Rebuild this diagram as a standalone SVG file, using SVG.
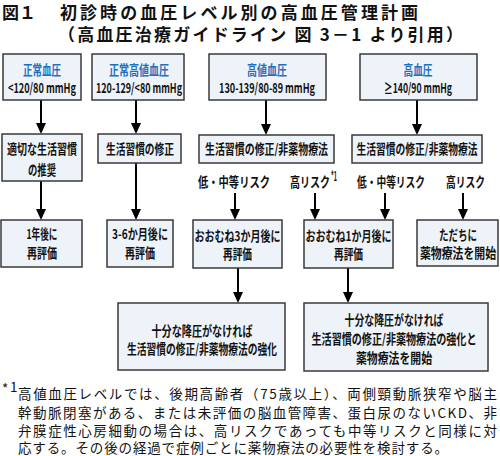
<svg xmlns="http://www.w3.org/2000/svg" width="500" height="456" viewBox="0 0 500 456">
<style>
  .bg { fill: #ffffff; }
  .box { fill: #eef3f9; stroke: #3a3a3a; stroke-width: 1.5; }
  .t { font-family: "Noto Sans CJK JP", "Liberation Sans", sans-serif; font-size: 13.5px; font-weight: 700; fill: #111; text-anchor: middle; }
  .blue { fill: #1f6fbf; }
  .lbl { font-family: "Noto Sans CJK JP", "Liberation Sans", sans-serif; font-size: 13.5px; font-weight: 700; fill: #111; }
  .title { font-family: "Noto Sans CJK JP", "Liberation Sans", sans-serif; font-size: 17px; font-weight: bold; fill: #111; }
  .fn { font-family: "Noto Sans CJK JP", "Liberation Sans", sans-serif; font-size: 13.5px; font-weight: 400; fill: #111; }
  .conn line { stroke: #000; stroke-width: 2; marker-end: url(#arr); }
</style>
<defs>
  <marker id="arr" viewBox="0 0 11 10" markerWidth="11" markerHeight="10" refX="6" refY="5" orient="auto" markerUnits="userSpaceOnUse">
    <path d="M0,0 L11,5 L0,10 z" fill="#000"/>
  </marker>
</defs>
<rect class="bg" x="0" y="0" width="500" height="456"/>

<g id="title">
  <text class="title" x="2" y="19" textLength="34" lengthAdjust="spacing">図１</text>
  <text class="title" x="60" y="19" textLength="358" lengthAdjust="spacing">初診時の血圧レベル別の高血圧管理計画</text>
  <text class="title" x="58" y="41" textLength="405" lengthAdjust="spacing">（高血圧治療ガイドライン 図 3－1 より引用）</text>
</g>

<g id="connectors" class="conn">
  <line x1="41" y1="100" x2="41" y2="129"/>
  <line x1="136" y1="100" x2="136" y2="129"/>
  <line x1="266" y1="100" x2="266" y2="130"/>
  <line x1="417" y1="100" x2="417" y2="130"/>
  <line x1="41" y1="181" x2="41" y2="215"/>
  <line x1="136" y1="163" x2="136" y2="215"/>
  <line x1="235" y1="193" x2="235" y2="215"/>
  <line x1="315" y1="193" x2="315" y2="215"/>
  <line x1="385" y1="193" x2="385" y2="215"/>
  <line x1="463" y1="193" x2="463" y2="215"/>
  <line x1="238" y1="268" x2="238" y2="298"/>
  <line x1="348" y1="268" x2="348" y2="298"/>
</g>

<g id="normal">
  <rect class="box" x="3" y="54" width="78" height="46"/>
  <text class="t blue" x="42" y="75" textLength="38" lengthAdjust="spacingAndGlyphs">正常血圧</text>
  <text class="t" x="42" y="93" font-weight="400" textLength="68" lengthAdjust="spacingAndGlyphs">&lt;120/80 mmHg</text>
</g>
<g id="high-normal">
  <rect class="box" x="92" y="54" width="92" height="46"/>
  <text class="t blue" x="139" y="75" textLength="60" lengthAdjust="spacingAndGlyphs">正常高値血圧</text>
  <text class="t" x="139" y="93" font-weight="400" textLength="86" lengthAdjust="spacingAndGlyphs">120-129/&lt;80 mmHg</text>
</g>
<g id="elevated">
  <rect class="box" x="209" y="54" width="117" height="46"/>
  <text class="t blue" x="267" y="75" textLength="40" lengthAdjust="spacingAndGlyphs">高値血圧</text>
  <text class="t" x="267" y="93" font-weight="400" textLength="96" lengthAdjust="spacingAndGlyphs">130-139/80-89 mmHg</text>
</g>
<g id="hypertension">
  <rect class="box" x="360" y="54" width="117" height="46"/>
  <text class="t blue" x="418" y="75" textLength="29" lengthAdjust="spacingAndGlyphs">高血圧</text>
  <text class="t" x="418" y="93" font-weight="400" textLength="68" lengthAdjust="spacingAndGlyphs">≥140/90 mmHg</text>
</g>

<g id="lifestyle-recommend">
  <rect class="box" x="2" y="134" width="80" height="47"/>
  <text class="t" x="42" y="154" textLength="70" lengthAdjust="spacingAndGlyphs">適切な生活習慣</text>
  <text class="t" x="42" y="175" textLength="28" lengthAdjust="spacingAndGlyphs">の推奨</text>
</g>
<g id="lifestyle-modify">
  <rect class="box" x="98" y="134" width="83" height="29"/>
  <text class="t" x="140" y="154" textLength="68" lengthAdjust="spacingAndGlyphs">生活習慣の修正</text>
</g>
<g id="lifestyle-nondrug-1">
  <rect class="box" x="199" y="135" width="135" height="28"/>
  <text class="t" x="266.5" y="154" textLength="123" lengthAdjust="spacingAndGlyphs">生活習慣の修正/非薬物療法</text>
</g>
<g id="lifestyle-nondrug-2">
  <rect class="box" x="352" y="135" width="130" height="28"/>
  <text class="t" x="417" y="154" textLength="121" lengthAdjust="spacingAndGlyphs">生活習慣の修正/非薬物療法</text>
</g>

<g id="risk-labels">
  <text class="lbl" x="198" y="187" textLength="72" lengthAdjust="spacingAndGlyphs">低・中等リスク</text>
  <text class="lbl" x="290" y="187" textLength="40" lengthAdjust="spacingAndGlyphs">高リスク</text>
  <text class="lbl" x="331" y="181" font-size="8" textLength="6" lengthAdjust="spacingAndGlyphs">*1</text>
  <text class="lbl" x="357" y="187" textLength="68" lengthAdjust="spacingAndGlyphs">低・中等リスク</text>
  <text class="lbl" x="446" y="187" textLength="39" lengthAdjust="spacingAndGlyphs">高リスク</text>
</g>

<g id="reeval-1y">
  <rect class="box" x="1" y="220" width="81" height="47"/>
  <text class="t" x="42" y="239" textLength="31" lengthAdjust="spacingAndGlyphs">1年後に</text>
  <text class="t" x="42" y="258" textLength="30" lengthAdjust="spacingAndGlyphs">再評価</text>
</g>
<g id="reeval-3-6m">
  <rect class="box" x="107" y="220" width="66" height="47"/>
  <text class="t" x="140" y="239" textLength="56" lengthAdjust="spacingAndGlyphs">3-6か月後に</text>
  <text class="t" x="140" y="258" textLength="30" lengthAdjust="spacingAndGlyphs">再評価</text>
</g>
<g id="reeval-3m">
  <rect class="box" x="193" y="220" width="89" height="48"/>
  <text class="t" x="237.5" y="241" textLength="86" lengthAdjust="spacingAndGlyphs">おおむね3か月後に</text>
  <text class="t" x="237.5" y="259" textLength="29" lengthAdjust="spacingAndGlyphs">再評価</text>
</g>
<g id="reeval-1m">
  <rect class="box" x="304" y="220" width="89" height="48"/>
  <text class="t" x="348.5" y="241" textLength="86" lengthAdjust="spacingAndGlyphs">おおむね1か月後に</text>
  <text class="t" x="348.5" y="259" textLength="29" lengthAdjust="spacingAndGlyphs">再評価</text>
</g>
<g id="drug-start">
  <rect class="box" x="417" y="220" width="81" height="46"/>
  <text class="t" x="458" y="240" textLength="38" lengthAdjust="spacingAndGlyphs">ただちに</text>
  <text class="t" x="458" y="258" textLength="76" lengthAdjust="spacingAndGlyphs">薬物療法を開始</text>
</g>

<g id="intensify">
  <rect class="box" x="118" y="303" width="167" height="67"/>
  <text class="t" x="202" y="336" textLength="101" lengthAdjust="spacingAndGlyphs">十分な降圧がなければ</text>
  <text class="t" x="202" y="354" textLength="150" lengthAdjust="spacingAndGlyphs">生活習慣の修正/非薬物療法の強化</text>
</g>
<g id="intensify-drug">
  <rect class="box" x="304" y="303" width="184" height="68"/>
  <text class="t" x="394" y="325" textLength="99" lengthAdjust="spacingAndGlyphs">十分な降圧がなければ</text>
  <text class="t" x="394" y="344" textLength="165" lengthAdjust="spacingAndGlyphs">生活習慣の修正/非薬物療法の強化と</text>
  <text class="t" x="394" y="363" textLength="76" lengthAdjust="spacingAndGlyphs">薬物療法を開始</text>
</g>

<g id="footnote">
  <text class="fn" x="2" y="394" font-size="11">*</text>
  <text class="fn" x="10" y="392" font-size="8.5">1</text>
  <text class="fn" x="18" y="399" textLength="479" lengthAdjust="spacing">高値血圧レベルでは、後期高齢者（75歳以上）、両側頸動脈狭窄や脳主</text>
  <text class="fn" x="18" y="418" textLength="479" lengthAdjust="spacing">幹動脈閉塞がある、または未評価の脳血管障害、蛋白尿のないCKD、非</text>
  <text class="fn" x="18" y="436" textLength="479" lengthAdjust="spacing">弁膜症性心房細動の場合は、高リスクであっても中等リスクと同様に対</text>
  <text class="fn" x="18" y="453" textLength="430" lengthAdjust="spacing">応する。その後の経過で症例ごとに薬物療法の必要性を検討する。</text>
</g>
</svg>
